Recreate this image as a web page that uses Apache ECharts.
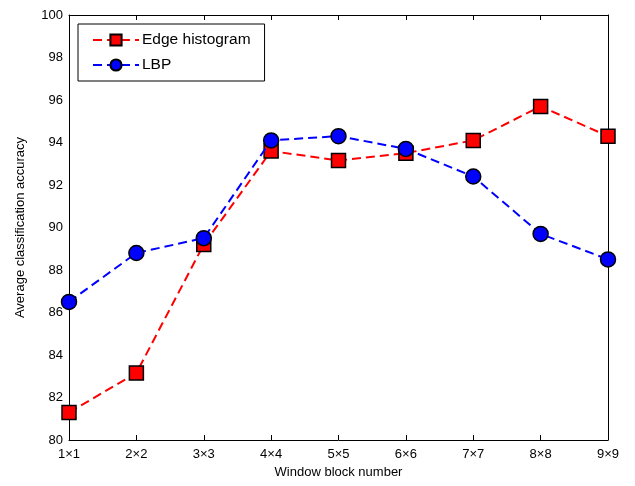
<!DOCTYPE html>
<html><head><meta charset="utf-8">
<script src="https://cdn.jsdelivr.net/npm/echarts@6/dist/echarts.min.js"></script>
<style>html,body{margin:0;padding:0;background:#fff}#c{width:635px;height:486px}</style>
</head><body><div id="c"></div>
<script>
const categories = ['1×1','2×2','3×3','4×4','5×5','6×6','7×7','8×8','9×9'];
const edgeHistogram = [81.3, 83.15, 89.2, 93.6, 93.15, 93.5, 94.1, 95.7, 94.3];
const lbp = [86.5, 88.8, 89.5, 94.1, 94.3, 93.7, 92.4, 89.7, 88.5];
const yTicks = {min: 80, max: 100, interval: 2};

const chart = echarts.init(document.getElementById('c'));
const font = 'Liberation Sans, Arial, sans-serif';
const axisLine = {show: true, lineStyle: {color: '#000', width: 1}};
chart.setOption({
  animation: false,
  backgroundColor: '#fff',
  grid: {left: 69, right: 27, top: 15, bottom: 46},
  legend: {
    orient: 'vertical', left: 78, top: 24,
    borderColor: '#000', borderWidth: 1, backgroundColor: '#fff',
    padding: [8, 14, 8, 14], itemGap: 9, itemWidth: 46, itemHeight: 14,
    textStyle: {fontFamily: font, fontSize: 15.5, color: '#000', padding: [0, 0, 0, -2]},
    data: ['Edge histogram', 'LBP']
  },
  xAxis: [{
    type: 'category', data: categories, boundaryGap: false,
    name: 'Window block number', nameLocation: 'middle', nameGap: 26,
    nameTextStyle: {fontFamily: font, fontSize: 13, color: '#000'},
    axisLine, axisTick: {inside: true, length: 5, alignWithLabel: true, lineStyle: {color: '#000'}},
    axisLabel: {fontFamily: font, fontSize: 13, color: '#000', margin: 8},
    splitLine: {show: false}
  }, {
    type: 'category', data: categories, boundaryGap: false, position: 'top',
    axisLine, axisTick: {inside: true, length: 5, lineStyle: {color: '#000'}},
    axisLabel: {show: false}, splitLine: {show: false}
  }],
  yAxis: [{
    type: 'value', min: yTicks.min, max: yTicks.max, interval: yTicks.interval,
    name: 'Average classification accuracy', nameLocation: 'middle', nameGap: 42,
    nameTextStyle: {fontFamily: font, fontSize: 13, color: '#000'},
    axisLine, axisTick: {inside: true, length: 5, lineStyle: {color: '#000'}},
    axisLabel: {fontFamily: font, fontSize: 13, color: '#000', margin: 6},
    splitLine: {show: false}
  }, {
    type: 'value', min: yTicks.min, max: yTicks.max, interval: yTicks.interval, position: 'right',
    axisLine, axisTick: {inside: true, length: 5, lineStyle: {color: '#000'}},
    axisLabel: {show: false}, splitLine: {show: false}
  }],
  series: [{
    name: 'Edge histogram', type: 'line', data: edgeHistogram,
    symbol: 'rect', symbolSize: 14,
    lineStyle: {color: '#ff0000', width: 2, type: [9, 5]},
    itemStyle: {color: '#ff0000', borderColor: '#000', borderWidth: 1.5},
    z: 2
  }, {
    name: 'LBP', type: 'line', data: lbp,
    symbol: 'circle', symbolSize: 15,
    lineStyle: {color: '#0000ff', width: 2, type: [9, 5]},
    itemStyle: {color: '#0000ff', borderColor: '#000', borderWidth: 1.5},
    z: 3
  }]
});
</script></body></html>
